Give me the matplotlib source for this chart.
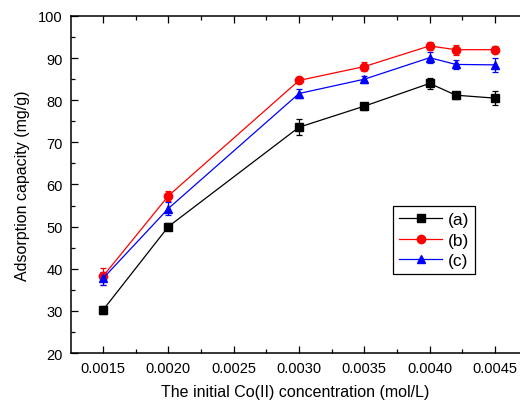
import matplotlib
matplotlib.use('Agg')
import matplotlib.pyplot as plt  # For plotting the curves
from matplotlib.ticker import MultipleLocator

plt.rcParams['font.family'] = ['Liberation Sans', 'DejaVu Sans']

# Initial Co(II) concentration (mol/L)
conc = [0.0015, 0.0020, 0.0030, 0.0035, 0.0040, 0.0042, 0.0045]

# Adsorption capacity (mg/g) and error for each sample
cap_a = [30.2, 50.0, 73.6, 78.6, 84.0, 81.2, 80.5]
err_a = [1.0, 0.8, 1.9, 0.8, 1.3, 0.8, 1.6]
cap_b = [38.2, 57.3, 84.7, 88.0, 92.9, 92.0, 92.0]
err_b = [2.0, 1.1, 0.7, 1.1, 0.9, 1.2, 0.8]
cap_c = [37.7, 54.3, 81.6, 85.0, 90.1, 88.5, 88.4]
err_c = [1.6, 1.6, 1.1, 0.8, 1.3, 1.1, 1.7]

labels = ['(a)', '(b)', '(c)']

fig = plt.figure(figsize=(5.2, 4.06), dpi=100)
ax = fig.add_axes([71 / 520, 1 - 354 / 406, 1 - 71 / 520, (354 - 17) / 406])

series = [(cap_a, err_a, 'black', 's'), (cap_b, err_b, 'red', 'o'), (cap_c, err_c, 'blue', '^')]
handles = []
for cap, err, color, marker in series:
    cont = ax.errorbar(conc, cap, yerr=err, color=color, marker=marker, markersize=6,
                       linewidth=0.9, elinewidth=0.9, capsize=2.5, capthick=0.9)
    handles.append(cont[0])  # only the line + marker goes in the legend

ax.set_xlim(0.001255, 0.004691)
ax.set_ylim(20, 100)
ax.set_xticks([0.0015, 0.0020, 0.0025, 0.0030, 0.0035, 0.0040, 0.0045])
ax.xaxis.set_minor_locator(MultipleLocator(0.00025))
ax.yaxis.set_major_locator(MultipleLocator(10))
ax.yaxis.set_minor_locator(MultipleLocator(5))
ax.xaxis.set_major_formatter(plt.FormatStrFormatter('%.4f'))

ax.tick_params(which='both', direction='in', top=True, labelsize=10.5, width=0.9)
ax.tick_params(which='major', length=5, pad=6)
ax.tick_params(which='minor', length=3)
ax.spines['right'].set_visible(False)
for side in ['left', 'bottom', 'top']:
    ax.spines[side].set_linewidth(1.1)

ax.set_xlabel('The initial Co(II) concentration (mol/L)', fontsize=11.5, labelpad=6)
ax.set_ylabel('Adsorption capacity (mg/g)', fontsize=11.5, labelpad=6)

leg = ax.legend(handles, labels, loc='upper left', bbox_to_anchor=(322 / 449, 1 - 190 / 337),
                fontsize=12.5, fancybox=False, edgecolor='black', framealpha=1,
                handlelength=2.5, borderpad=0.35, labelspacing=0.3, handletextpad=0.3,
                borderaxespad=0)
leg.get_frame().set_linewidth(0.9)

fig.savefig('out.png', dpi=100)
